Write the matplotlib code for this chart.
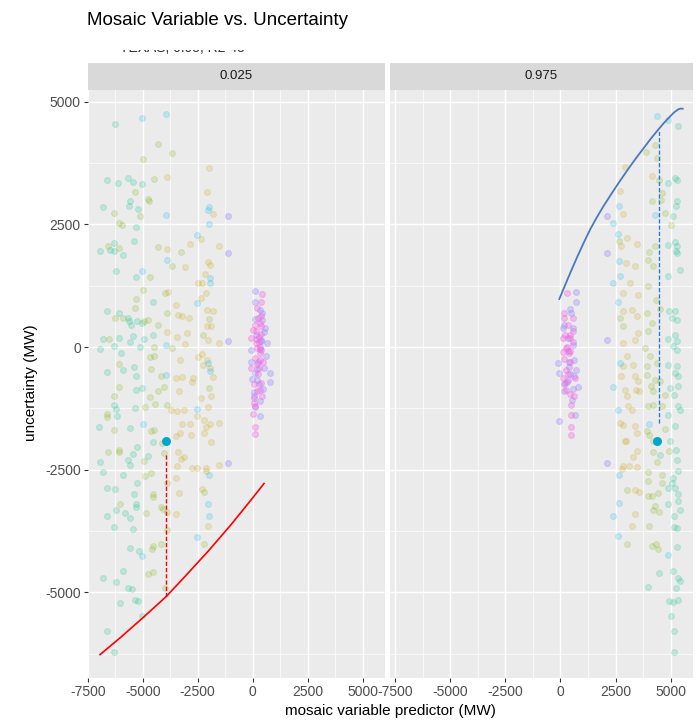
import matplotlib
matplotlib.use("Agg")
import matplotlib.pyplot as plt
from matplotlib.patches import Rectangle
from matplotlib.ticker import FixedLocator
import numpy as np

plt.rcParams['font.family'] = ['Liberation Sans', 'DejaVu Sans']
plt.rcParams['axes.unicode_minus'] = False

# ---------------- data ----------------
title = "Mosaic Variable vs. Uncertainty"
subtitle = "TEXAS, 0.95, R2 45"
panels = ["0.025", "0.975"]
x_ticks = [-7500, -5000, -2500, 0, 2500, 5000]
y_ticks = [-5000, -2500, 0, 2500, 5000]
x_minor = [-6250, -3750, -1250, 1250, 3750]
y_minor = [-6250, -3750, -1250, 1250, 3750]
xlabel = "mosaic variable predictor (MW)"
ylabel = "uncertainty (MW)"

group_colors = {
    "tan": "#C9A100", "green": "#7CAE00", "teal": "#00C08B",
    "blue": "#00B4F0", "purple": "#9C8CFF", "pink": "#F564E3",
}

# left panel (0.025)
left_teal = [(-6272,4550),(-6613,3402),(-6116,3347),(-5664,3436),(-5455,3354),(-5030,3320),(-6795,2864),(-5560,2966),
             (-5605,2884),(-5229,2810),(-5319,2437),(-5410,2159),(-6300,2125),(-6947,1962),(-6500,1970),(-6300,1960),
             (-5890,1874),(-6192,1554),(-5302,1432),(-4534,910),(-6613,740),(-6089,699),(-5664,598),(-5600,520),
             (-5242,537),(-5030,480),(-5514,448),(-4552,238),(-5455,224),(-6795,156),(-6057,177),(-5591,108),
             (-4958,163),(-6947,-47),(-6300,20),(-5107,7),(-5966,-129),(-5410,-401),(-5900,-460),(-6644,-516),
             (-5319,-584),(-5030,-842),(-5319,-870),(-5365,-1236),(-6300,-1181),(-6192,-1270),(-6150,-1400),
             (-6966,-1623),(-5560,-1657),(-5242,-2030),(-4534,-1928),(-5446,-2186),(-4769,-2214),(-6947,-2336),
             (-5650,-2300),(-5560,-2404),(-6795,-2553),(-5907,-2607),(-5260,-2777),(-6613,-2879),(-6250,-2890),
             (-5410,-2994),(-5319,-3191),(-5319,-3260),(-6192,-3320),(-5786,-3374),(-5591,-3489),(-6644,-3436),
             (-6300,-3673),(-5446,-3707),(-5591,-4088),(-5180,-4150),(-5907,-4563),(-6795,-4712),(-6192,-4794),
             (-5680,-4903),(-5500,-4930),(-5365,-5155),(-5200,-5180),(-6011,-5215),(-5030,-5473),(-6613,-5799),
             (-6300,-6220)]
left_green = [(-4325,4135),(-3675,3946),(-4986,3836),(-4506,3422),(-5365,3150),(-4760,3015),(-4700,2966),(-6300,2729),
              (-5107,2661),(-6057,2526),(-5920,2490),(-6586,2064),(-6057,2020),(-4325,2044),(-3268,1929),(-3675,1657),
              (-4656,1432),(-5004,1161),(-3978,1106),(-5288,971),(-5365,788),(-6272,591),(-5900,585),(-4958,540),
              (-4780,560),(-3901,686),(-1975,570),(-4325,448),(-2246,244),(-6520,156),(-4475,7),(-3675,-27),
              (-4687,-211),(-4500,-180),(-6057,-346),(-4624,-448),(-4159,-584),(-4023,-808),(-6057,-808),(-1975,-829),
              (-4325,-896),(-6300,-998),(-4687,-1012),(-4430,-1168),(-4900,-1220),(-3873,-1181),(-6644,-1365),
              (-6600,-1420),(-6300,-1691),(-4611,-1711),(-4500,-1690),(-4100,-1949),(-6572,-2132),(-6057,-2100),
              (-6057,-2150),(-4023,-2153),(-4950,-2330),(-4882,-2628),(-4600,-2560),(-3901,-2777),(-2215,-2960),
              (-4552,-2987),(-4540,-3050),(-6050,-3200),(-4850,-3388),(-4159,-3252),(-4060,-3300),(-3900,-3370),
              (-3901,-3720),(-2215,-4013),(-4159,-4013),(-4540,-4060),(-4579,-4122),(-4769,-4624),(-4550,-4580),
              (-3978,-4917)]
left_tan = [(-1975,3653),(-3901,3469),(-2093,3164),(-1822,2715),(-2364,2200),(-2848,2098),(-1537,2057),(-3901,1996),
            (-3074,1636),(-2048,1738),(-1944,1670),(-2156,1481),(-2472,1297),(-2300,1297),(-3850,1130),(-2124,1106),
            (-2364,990),(-3480,856),(-3376,652),(-3200,640),(-2879,584),(-2066,754),(-1822,740),(-1898,428),
            (-2066,428),(-3901,299),(-3449,210),(-2997,279),(-3074,61),(-2021,143),(-1523,75),(-2472,-197),
            (-2300,-140),(-2093,-265),(-2250,-370),(-1944,-420),(-3300,-265),(-3480,-625),(-3200,-610),(-2700,-640),
            (-2744,-706),(-1822,-605),(-3345,-896),(-2364,-1033),(-1900,-1000),(-3700,-1290),(-3449,-1297),
            (-3100,-1290),(-2048,-1216),(-2518,-1399),(-2201,-1487),(-1944,-1560),(-1523,-1542),(-2100,-1625),
            (-3196,-1569),(-2850,-1570),(-3300,-1745),(-2800,-1800),(-2200,-1750),(-3494,-1806),(-1898,-1928),
            (-3376,-2132),(-3119,-2234),(-3250,-2290),(-3449,-2418),(-2771,-2472),(-2550,-2472),(-2138,-2459),
            (-2100,-2520),(-1537,-2404),(-3480,-2662),(-3345,-2967),(-2292,-2900),(-3480,-3402),(-2048,-3646)]
left_blue = [(-5030,4672),(-3946,4753),(-1975,2864),(-2048,2783),(-3946,2695),(-1975,2505),(-2545,2281),(-3873,1772),
             (-5030,1548),(-1944,1412),(-1944,1297),(-2545,903),(-3932,41),(-2048,-333),(-1944,-482),(-3950,-575),
             (-2545,-1263),(-5004,-1569),(-1975,-2607),(-2048,-3198),(-1975,-3443),(-2545,-3864),(-5030,-4251)]
left_purple = [(-1144,2661),(-1144,1908),(-1144,128),(-1144,-2370),
               (122,1141),(122,923),(316,754),(122,570),(420,560),(574,380),(400,150),(380,130),(647,75),(-59,-61),
               (619,-183),(-59,-300),(520,-420),(90,-536),(800,-536),(800,-706),(-30,-650),(200,-680),(300,-760),
               (45,-910),(316,-1100),(316,-1399),(250,-300),(150,250),(420,700),(500,300),(80,-1000),(480,-850),
               (350,-50),(200,-450),(120,-1230)]
left_pink = [(420,1073),(370,923),(370,640),(316,482),(370,420),(14,346),(150,330),(370,260),(-59,177),(150,160),
             (150,75),(316,7),(200,-20),(350,-130),(370,-61),(100,-230),(316,-265),(200,-350),(-59,-434),(280,-420),
             (250,-560),(60,-760),(393,-740),(200,-900),(316,-880),(45,-1046),(122,-1195),(14,-1372),(90,-1623),
             (122,-1779),(300,200),(250,600),(200,800),(450,-300),(100,450),(420,-1000),(60,-1150),(280,100)]

# right panel (0.975)
right_teal = [(5346,4496),(4893,3342),(5196,3444),(5301,3395),(5241,2865),(5301,2967),(5120,2662),(4893,2085),
              (5196,2132),(5301,2050),(5241,1948),(5301,1916),(5423,1575),(4893,1439),(4938,726),(5196,726),
              (5301,556),(5045,591),(4893,163),(5196,251),(5301,114),(5120,12),(5301,-55),(4893,-361),(5271,-395),
              (5196,-530),(5346,-585),(4969,-836),(5150,-972),(5346,-803),(4893,-1380),(5346,-1196),(5423,-1278),
              (5196,-1618),(4969,-1924),(5241,-2093),(5301,-2297),(5120,-2670),(5045,-2772),(5346,-2535),
              (4893,-2874),(5196,-2874),(5346,-2990),(4893,-3200),(5346,-3147),(5423,-3316),(5150,-3452),
              (5150,-3668),(5301,-3689),(5271,-4076),(5120,-4559),(5346,-4708),(5423,-4777),(5241,-4912),
              (4938,-5170),(5120,-5205),(5346,-5150),(5015,-5476),(5150,-5796),(5150,-6216),(4516,-2195),
              (4484,-4606),(3985,-4899)]
right_green = [(3881,3966),(4289,4123),(4366,3852),(4484,3409),(4620,3138),(4167,2967),(4548,3002),(4742,2731),
               (5015,2492),(2671,2152),(4031,1928),(4289,2050),(3985,1779),(4212,1643),(3985,1235),(4334,964),
               (4516,774),(2702,591),(2852,434),(3913,693),(4139,489),(3985,318),(3836,-20),(4062,-192),(3913,-395),
               (4366,-326),(3913,-565),(4289,-666),(4516,-701),(4108,-803),(4212,-905),(4742,-972),(3985,-1211),
               (4212,-1176),(4593,-1211),(3913,-1720),(4031,-1787),(4742,-1671),(4212,-1924),(4212,-2148),
               (4938,-2128),(4366,-2352),(3985,-2556),(3985,-2739),(4593,-2603),(4593,-2772),(3033,-2922),
               (3985,-3045),(4439,-2976),(4139,-3031),(4289,-3249),(4212,-3316),(4484,-3371),(4031,-3656),
               (3033,-4009),(4139,-4050),(4321,-4015),(4439,-4117)]
right_tan = [(2929,3660),(4139,3477),(2702,3185),(2852,2717),(3033,2221),(3459,2105),(2748,2065),(2961,1712),
             (3382,1643),(3156,1304),(2852,1100),(3532,1066),(2852,740),(3233,760),(3459,624),(2852,82),(3382,149),
             (3532,285),(3006,-192),(2852,-395),(3305,-361),(2734,-599),(3382,-599),(3532,-701),(2929,-870),
             (3033,-1007),(3428,-870),(3577,-905),(3051,-1211),(3233,-1278),(2702,-1549),(2852,-1584),(3382,-1618),
             (3487,-1753),(2929,-1924),(2961,-1924),(3459,-2128),(3305,-2242),(2852,-2419),(3124,-2433),
             (3459,-2454),(2779,-2486),(3382,-2908),(3577,-2955),(3382,-3397),(3233,-3656)]
right_blue = [(4366,4700),(4893,4618),(2671,2865),(4289,2696),(2398,2527),(2625,2309),(2671,1745),(2702,1439),
              (2371,1304),(2625,909),(2702,-326),(2398,-815),(2625,-1278),(4031,-1563),(2671,-2603),(2671,-3179),
              (2371,-3452),(2625,-3860),(4893,-4247)]
right_purple = [(2099,2662),(2099,1916),(2099,149),(2099,-2364),
                (706,1127),(706,923),(450,770),(556,380),(105,380),(330,177),(560,50),(330,-90),(600,-260),
                (-120,-330),(405,-401),(706,-470),(-45,-536),(420,-560),(630,-600),(200,-740),(781,-808),(560,-860),
                (526,-1080),(650,-1385),(300,-710),(180,450),(500,700),(150,-900),(400,-300),(-50,-1500)]
right_pink = [(285,1093),(556,584),(180,584),(330,450),(556,320),(220,250),(420,180),(105,177),(560,110),(240,-20),
              (420,-80),(105,-100),(405,-129),(180,-250),(420,-300),(250,-470),(105,-630),(330,-680),(650,-630),
              (180,-760),(250,-880),(420,-960),(600,-1000),(480,-1181),(480,-1385),(480,-1623),(480,-1793),(300,0),
              (150,700),(450,250),(350,-550)]

left_groups = {"teal": left_teal, "green": left_green, "tan": left_tan, "blue": left_blue,
               "purple": left_purple, "pink": left_pink}
right_groups = {"teal": right_teal, "green": right_green, "tan": right_tan, "blue": right_blue,
                "purple": right_purple, "pink": right_pink}

# fitted quantile curves
red_curve_x = [-6940, -6000, -5000, -3941, -3000, -2000, -1000, 0, 514]
red_curve_y = [-6271, -5918, -5522, -5091, -4640, -4150, -3630, -3076, -2783]
blue_curve_x = [-50, 350, 739, 1040, 1342, 1645, 1945, 2250, 2553, 2855, 3156, 3458, 3759, 4060, 4366,
                4668, 4969, 5160, 5346, 5450, 5545]
blue_curve_y = [978, 1410, 1814, 2110, 2391, 2640, 2865, 3080, 3287, 3487, 3681, 3868, 4045, 4225, 4394,
                4555, 4700, 4785, 4845, 4860, 4857]

# highlighted observation and its distance to the curve
left_point = (-3954, -1910)
left_seg_x = -3941
left_seg_y = (-2209, -5091)
right_point = (4366, -1910)
right_seg_x = 4457
right_seg_y = (-1543, 4394)

left_xlim = (-7500, 6014)
right_xlim = (-7727, 5997)
ylim = (-6747, 5249)

# ---------------- figure ----------------
W, H = 696, 721
fig = plt.figure(figsize=(W / 100, H / 100), dpi=100)

def fx(px):
    return px / W

def fy(py):
    return 1 - py / H

panel_top, panel_bot = 89.5, 678
strip_top = 63.3
boxes = [(87.7, 385.0), (390.0, 692.7)]
axes = []
for (x0, x1), name in zip(boxes, panels):
    ax = fig.add_axes([fx(x0), fy(panel_bot), fx(x1) - fx(x0), fy(panel_top) - fy(panel_bot)])
    ax.set_facecolor('#EBEBEB')
    for s in ax.spines.values():
        s.set_visible(False)
    ax.set_xticks(x_ticks)
    ax.set_yticks(y_ticks)
    ax.xaxis.set_minor_locator(FixedLocator(x_minor))
    ax.yaxis.set_minor_locator(FixedLocator(y_minor))
    ax.grid(which='major', color='white', lw=1.05)
    ax.grid(which='minor', color='white', lw=0.5)
    ax.set_axisbelow(True)
    ax.tick_params(which='minor', length=0)
    ax.tick_params(which='major', length=3, width=0.8, color='#333333',
                   labelcolor='#4D4D4D', labelsize=10, pad=2)
    ax.set_ylim(*ylim)
    sax = fig.add_axes([fx(x0), fy(panel_top), fx(x1) - fx(x0), fy(strip_top) - fy(panel_top)])
    sax.set_facecolor('#D9D9D9')
    sax.set_xticks([]); sax.set_yticks([])
    for s in sax.spines.values():
        s.set_visible(False)
    sax.text(0.5, 0.5, name, ha='center', va='center', fontsize=9.5, color='#1A1A1A',
             transform=sax.transAxes)
    axes.append(ax)

axL, axR = axes
axL.set_xlim(*left_xlim)
axR.set_xlim(*right_xlim)
axR.tick_params(axis='y', left=False, labelleft=False)

for ax, groups in ((axL, left_groups), (axR, right_groups)):
    for g, pts in groups.items():
        arr = np.array(pts, dtype=float)
        alpha = 0.34 if g in ("purple", "pink") else 0.18
        ax.scatter(arr[:, 0], arr[:, 1], s=18, facecolor=group_colors[g], edgecolor=group_colors[g],
                   linewidths=0.8, alpha=alpha, zorder=2)

axL.plot(red_curve_x, red_curve_y, color='#FF0000', lw=1.2, zorder=3)
axL.plot([left_seg_x, left_seg_x], left_seg_y, color='#FF0000', lw=1.0, ls=(0, (3, 1.5)), zorder=3)
axL.scatter([left_point[0]], [left_point[1]], s=30, color='#00A9CC', zorder=4)

axR.plot(blue_curve_x, blue_curve_y, color='#4A78C0', lw=1.3, zorder=3)
axR.plot([right_seg_x, right_seg_x], right_seg_y, color='#2B7BD6', lw=1.0, ls=(0, (3, 1.5)), zorder=3)
axR.scatter([right_point[0]], [right_point[1]], s=30, color='#00A9CC', zorder=4)

# titles and axis labels
fig.text(fx(87), fy(25), title, fontsize=13.5, color='#000000', va='baseline', ha='left')
fig.text(fx(120), fy(52), subtitle, fontsize=10, color='#333333', va='baseline', ha='left')
fig.add_artist(Rectangle((0, fy(50)), 1, fy(32) - fy(50), transform=fig.transFigure,
                         facecolor='white', edgecolor='none', zorder=10))
fig.text(fx(390), fy(711), xlabel, fontsize=11, color='#000000', ha='center', va='center')
fig.text(fx(31), fy(383), ylabel, fontsize=11, color='#000000', ha='center', va='center', rotation=90)

fig.savefig('out.png', dpi=100)
